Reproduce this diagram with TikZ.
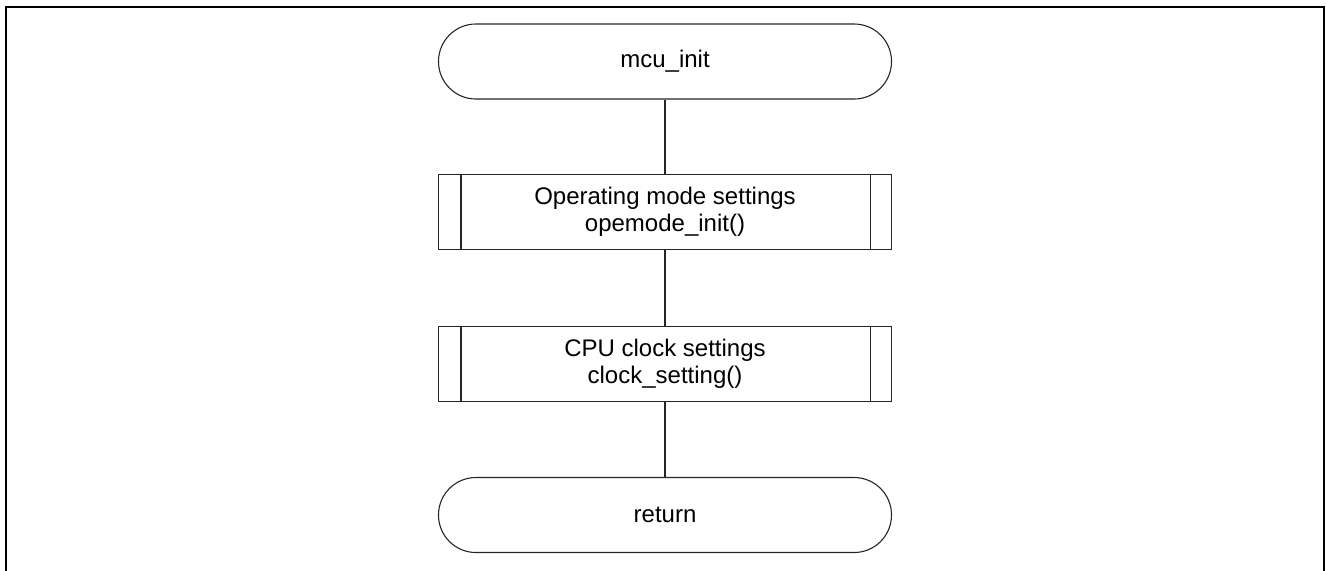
\documentclass[tikz,border=0pt]{standalone}
\usepackage{fontspec}
\setmainfont{Liberation Sans}
\begin{document}
\begin{tikzpicture}[x=0.5pt,y=-0.5pt,
  base/.style={draw=black!85,line width=0.55pt,minimum width=226.5pt,minimum height=37.5pt,
    inner sep=0pt,font=\fontsize{12}{13.5}\selectfont,align=center,fill=white},
  term/.style={base,rounded corners=18.7pt},
  proc/.style={base,rectangle},
  conn/.style={draw=black!85,line width=0.55pt}]
\useasboundingbox (0,0) rectangle (1326,570);
\draw[line width=1pt] (5.7,571) -- (5.7,6.7) -- (1324,6.7) -- (1324,571);
\node[term] (t1) at (665,61.5) {mcu\_init};
\node[proc] (b1) at (665,212) {Operating mode settings\\opemode\_init()};
\node[proc] (b2) at (665,364) {CPU clock settings\\clock\_setting()};
\node[term] (t2) at (665,515) {return};
\foreach \n in {b1,b2}{
  \draw[conn] ([xshift=11.5pt]\n.north west) -- ([xshift=11.5pt]\n.south west);
  \draw[conn] ([xshift=-11pt]\n.north east) -- ([xshift=-11pt]\n.south east);
}
\draw[conn] (t1) -- (b1);
\draw[conn] (b1) -- (b2);
\draw[conn] (b2) -- (t2);
\end{tikzpicture}
\end{document}
